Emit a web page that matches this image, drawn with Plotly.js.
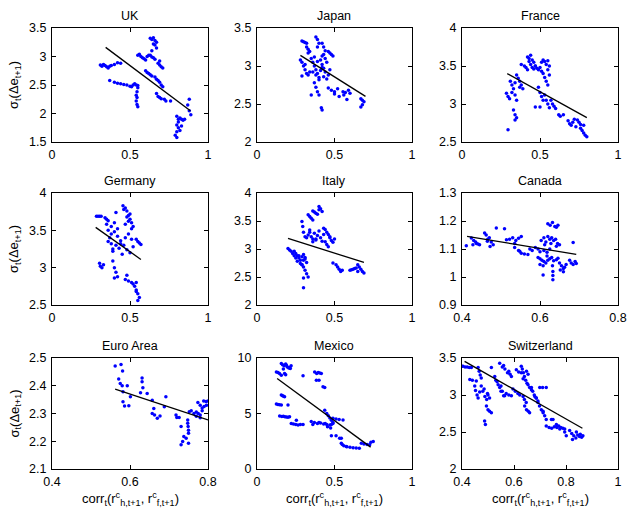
<!DOCTYPE html>
<html><head><meta charset="utf-8">
<script src="https://cdn.plot.ly/plotly-3.0.1.min.js"></script>
<style>html,body{margin:0;padding:0;background:#fff}#c{width:627px;height:511px}</style>
</head><body><div id="c"></div>
<script>
// ---------- data ----------
const titles = ['UK','Japan','France','Germany','Italy','Canada','Euro Area','Mexico','Switzerland'];

const ukX = [0.31,0.32,0.33,0.34,0.35,0.36,0.37,0.38,0.40,0.42,0.44, 0.37, 0.40,0.42,0.44,0.46,0.48,0.50,0.51,0.52,0.53,0.54,0.55, 0.55,0.545,0.54,0.545,0.54,0.545,0.55, 0.55,0.56,0.57,0.58,0.59,0.60,0.61,0.62,0.63,0.64,0.65,0.66, 0.63,0.64,0.65,0.66,0.67,0.66,0.67,0.65,0.64, 0.68,0.69,0.70,0.71,0.69, 0.60,0.61,0.62,0.63,0.64,0.66,0.67, 0.68,0.69,0.70,0.71, 0.67,0.68,0.69,0.70,0.72,0.73, 0.76, 0.80,0.81,0.82,0.83,0.84,0.85,0.80,0.81,0.80,0.79,0.80,0.82,0.83,0.81, 0.88,0.87,0.88,0.89];
const ukY = [2.85,2.83,2.86,2.84,2.82,2.80,2.83,2.84,2.86,2.89,2.88, 2.58, 2.55,2.53,2.52,2.51,2.50,2.48,2.47,2.50,2.52,2.50,2.49, 2.45,2.38,2.32,2.28,2.22,2.16,2.12, 3.02,3.04,3.00,2.98,2.96,2.94,3.00,3.02,3.02,2.99,2.98,2.95, 3.32,3.30,3.33,3.28,3.25,3.20,3.15,3.22,3.10, 2.88,2.85,2.82,2.80,2.92, 2.75,2.72,2.70,2.68,2.66,2.64,2.60, 2.58,2.55,2.50,2.47, 2.35,2.30,2.28,2.26,2.25,2.22, 2.22, 1.95,1.90,1.92,1.90,1.88,1.90,1.80,1.75,1.68,1.62,1.58,1.70,1.78,1.85, 2.25,2.15,2.05,1.98];
const ukLineX = [0.344,0.887], ukLineY = [3.16,2.05];

const jpX = [0.29,0.30,0.31,0.32, 0.32,0.33,0.34,0.33, 0.28,0.29,0.30,0.31,0.32,0.33,0.34,0.29,0.31, 0.38,0.39,0.40,0.39, 0.42,0.43,0.44,0.43,0.42, 0.46,0.47,0.48,0.49, 0.35,0.36,0.37,0.38,0.39,0.40,0.41,0.42,0.43,0.44,0.45,0.46,0.47,0.36,0.38,0.40,0.42,0.44,0.37,0.39,0.41,0.43,0.45, 0.37,0.38,0.39,0.40, 0.35, 0.415,0.42, 0.46,0.48,0.50,0.52, 0.50,0.53,0.56,0.60, 0.58, 0.555,0.57,0.59, 0.67,0.68,0.69,0.68,0.67];
const jpY = [3.33,3.32,3.31,3.30, 3.25,3.22,3.19,3.17, 3.08,3.05,3.00,2.95,2.90,2.88,2.92,2.87,3.02, 3.38,3.35,3.30,3.25, 3.30,3.25,3.20,3.15,3.13, 3.19,3.17,3.15,3.13, 3.10,3.05,3.00,2.95,2.90,2.85,3.08,3.02,2.97,2.92,3.05,2.88,2.95, 2.92,2.88,2.82,2.98,3.10,3.12,3.06,2.94,2.86,2.83, 2.78,2.72,2.66,2.62, 2.62, 2.45,2.42, 2.71,2.68,2.66,2.70, 2.63,2.60,2.62,2.64, 2.56, 2.66,2.65,2.68, 2.57,2.55,2.53,2.49,2.46];
const jpLineX = [0.28,0.70], jpLineY = [3.14,2.60];

const frX = [0.295, 0.285,0.295,0.305, 0.31,0.32,0.33,0.34,0.35,0.32,0.34, 0.33,0.34,0.35,0.34, 0.35,0.36,0.37,0.38,0.39,0.37, 0.38,0.40,0.41,0.42, 0.42,0.43,0.44,0.45,0.46,0.47,0.44,0.45,0.46,0.43, 0.47,0.48,0.49,0.50,0.51, 0.51,0.52,0.53,0.54,0.55,0.56,0.55, 0.52,0.53,0.54,0.55,0.56, 0.49,0.50,0.51,0.52, 0.47, 0.50, 0.53,0.54,0.55,0.56, 0.57,0.58,0.59,0.60, 0.62,0.63,0.65, 0.68,0.69,0.70,0.71,0.73, 0.72,0.74,0.75,0.76,0.78, 0.76,0.77,0.78,0.79,0.80];
const frY = [2.66, 3.14,3.10,3.07, 3.30,3.25,3.20,3.12,3.05,3.15,3.28, 2.92,2.86,2.82,2.79, 3.38,3.34,3.30,3.25,3.20,3.22, 3.52,3.50,3.48,3.45, 3.62,3.60,3.64,3.58,3.55,3.50,3.52,3.48,3.46,3.56, 3.50,3.47,3.45,3.48,3.43, 3.55,3.58,3.56,3.52,3.57,3.50,3.45, 3.40,3.35,3.30,3.25,3.38, 3.22,3.15,3.10,3.05, 2.96, 2.96, 3.12,3.05,3.00,2.95, 3.05,3.00,2.97,2.94, 2.86,2.84,2.86, 2.78,2.74,2.72,2.76,2.70, 2.80,2.79,2.76,2.73,2.72, 2.68,2.65,2.62,2.59,2.57];
const frLineX = [0.29,0.80], frLineY = [3.40,2.82];

const deX = [0.285,0.295,0.305,0.315, 0.305,0.31,0.32,0.33, 0.34,0.35,0.36, 0.35,0.36,0.37,0.38,0.39,0.36,0.38, 0.38,0.40,0.42,0.44,0.46,0.48,0.50,0.52,0.39,0.41,0.43,0.45,0.47,0.49,0.51,0.40,0.42,0.44, 0.39,0.40,0.41,0.42,0.40, 0.41, 0.455,0.47,0.48,0.49,0.50,0.51,0.52,0.46,0.48,0.50,0.47,0.49,0.51, 0.48, 0.47,0.49,0.51,0.52,0.54, 0.53,0.54,0.55,0.56,0.55,0.54, 0.54,0.55,0.56,0.57];
const deY = [3.69,3.69,3.69,3.69, 3.06,3.02,3.00,3.04, 3.67,3.65,3.63, 3.58,3.50,3.40,3.32,3.25,3.35,3.45, 3.55,3.48,3.42,3.36,3.30,3.24,3.20,3.28,3.22,3.30,3.26,3.18,3.40,3.45,3.38,3.60,3.52,3.32, 3.09,3.00,2.94,2.88,2.86, 3.74, 3.83,3.80,3.76,3.70,3.65,3.60,3.55,3.78,3.68,3.72,3.58,3.62,3.52, 2.90, 2.84,2.82,2.80,2.78,2.80, 2.75,2.70,2.65,2.60,2.56,2.68, 3.38,3.35,3.33,3.31];
const deLineX = [0.28,0.57], deLineY = [3.54,3.11];

const itX = [0.20,0.21,0.22,0.23,0.24,0.25, 0.24,0.25,0.26,0.27,0.28,0.29,0.30,0.31,0.32,0.26,0.28,0.30,0.27,0.29,0.31, 0.29,0.30,0.31,0.32,0.33,0.30, 0.30, 0.29,0.295,0.30,0.31, 0.33,0.34,0.35,0.36, 0.36,0.37,0.38,0.39,0.40, 0.40,0.41,0.42, 0.32,0.33,0.34,0.35,0.36,0.37,0.38,0.39,0.40,0.41,0.42,0.43,0.34,0.36,0.38, 0.43,0.44,0.45,0.46,0.47, 0.44,0.45,0.46, 0.47,0.48,0.49,0.50, 0.49, 0.51,0.52,0.53,0.54,0.55, 0.60,0.61,0.62,0.63,0.64,0.65, 0.65,0.66,0.67,0.68,0.69];
const itY = [3.01,2.98,2.96,2.92,2.88,2.84, 2.96,2.92,2.88,2.84,2.80,2.86,2.90,2.82,2.76,2.78,2.74,2.80,2.88,2.72,2.85, 2.72,2.68,2.62,2.56,2.50,2.48, 2.31, 3.49,3.40,3.30,3.22, 3.61,3.58,3.55,3.52, 3.68,3.66,3.64,3.62,3.70, 3.76,3.72,3.67, 3.20,3.25,3.30,3.22,3.18,3.28,3.16,3.24,3.32,3.20,3.14,3.26,3.34,3.13,3.18, 3.37,3.35,3.30,3.26,3.22, 3.13,3.08,3.04, 3.20,3.15,3.12,3.18, 2.75, 2.72,2.68,2.64,2.60,2.62, 2.62,2.63,2.64,2.65,2.66,2.60, 2.72,2.68,2.64,2.60,2.57];
const itLineX = [0.20,0.69], itLineY = [3.19,2.76];

const caX = [0.411, 0.424,0.43,0.435,0.441,0.428,0.437, 0.445, 0.458,0.462,0.466,0.47,0.475,0.48,0.465,0.472, 0.488, 0.509, 0.514, 0.522,0.53,0.538,0.545,0.552,0.535, 0.535,0.545,0.552,0.56,0.569,0.548, 0.574,0.58,0.588,0.595,0.60,0.61,0.618,0.625, 0.603,0.61,0.615,0.62,0.625,0.63,0.635,0.64,0.645,0.65,0.612,0.628,0.642, 0.62,0.626,0.632,0.638,0.642,0.646, 0.608,0.608, 0.595,0.60,0.605,0.61,0.615,0.62,0.625,0.63,0.635,0.642,0.60,0.618,0.632, 0.633,0.633,0.633, 0.646,0.65,0.655,0.66,0.663,0.667,0.652,0.66, 0.676,0.68,0.685,0.69,0.693, 0.685];
const caY = [1.112, 1.139,1.13,1.125,1.118,1.115,1.12, 1.115, 1.157,1.15,1.135,1.14,1.125,1.115,1.128,1.109, 1.175, 1.172, 1.133, 1.135,1.14,1.13,1.138,1.145,1.12, 1.105,1.095,1.085,1.082,1.08,1.092, 1.1,1.095,1.105,1.1,1.09,1.095,1.088,1.1, 1.13,1.14,1.125,1.145,1.135,1.14,1.13,1.135,1.12,1.115,1.115,1.12,1.11, 1.19,1.185,1.195,1.18,1.178,1.185, 1.04,1.007, 1.07,1.065,1.06,1.055,1.05,1.06,1.065,1.07,1.058,1.062,1.045,1.075,1.04, 1.02,1.005,0.99, 1.067,1.05,1.04,1.03,1.035,1.045,1.025,1.019, 1.06,1.05,1.045,1.055,1.048, 1.123];
const caLineX = [0.413,0.693], caLineY = [1.145,1.081];

const euX = [0.562,0.577,0.581,0.571,0.575,0.58,0.582,0.582,0.586,0.593,0.597,0.601, 0.627,0.631,0.631,0.633,0.644, 0.657,0.661,0.657,0.663,0.67,0.677, 0.688,0.692, 0.718,0.72,0.726,0.731, 0.731,0.735,0.738,0.744,0.75, 0.748,0.748,0.749,0.75,0.75, 0.752,0.757,0.764,0.77,0.775,0.78,0.785, 0.774,0.78,0.785,0.79,0.796,0.78,0.77, 0.789,0.795,0.80];
const euY = [2.471,2.477,2.453,2.424,2.408,2.40,2.378,2.342,2.327,2.40,2.328,2.36, 2.375,2.428,2.414,2.393,2.372, 2.348,2.318,2.30,2.295,2.283,2.291, 2.324,2.36, 2.295,2.286,2.286,2.253, 2.187,2.199,2.217,2.211,2.229, 2.277,2.265,2.253,2.24,2.193, 2.306,2.31,2.30,2.305,2.30,2.295,2.31, 2.34,2.33,2.32,2.325,2.33,2.285,2.29, 2.345,2.343,2.345];
const euLineX = [0.562,0.80], euLineY = [2.388,2.277];

const mxX = [0.125,0.135,0.145,0.157, 0.125,0.135,0.145,0.157, 0.157,0.165,0.172,0.178, 0.146,0.16,0.17,0.18,0.19,0.2,0.21, 0.2, 0.157,0.165,0.175,0.185,0.195,0.205,0.215,0.22,0.17,0.19,0.21, 0.178,0.185, 0.221,0.235,0.25,0.265,0.28,0.297, 0.254, 0.297, 0.372,0.385,0.395,0.405,0.415, 0.383,0.40, 0.426,0.437, 0.35,0.37,0.39,0.41,0.43,0.45,0.47,0.49,0.36,0.40,0.44,0.48, 0.437,0.45,0.46,0.47,0.48,0.49,0.455,0.475, 0.49,0.51,0.53,0.555, 0.48,0.51, 0.533,0.544, 0.544,0.55,0.56,0.576, 0.58,0.6,0.62,0.64,0.66, 0.673,0.69,0.71,0.727, 0.735,0.75];
const mxY = [8.75,8.7,8.6,8.45, 5.85,5.8,5.78,5.76, 6.66,6.6,6.55,6.5, 4.78,4.72,4.75,4.7,4.68,4.66,4.7, 5.76, 9.5,9.4,9.3,9.45,9.2,9.1,9.05,9.3,9.0,9.35,9.15, 8.6,8.5, 4.1,4.05,4.0,3.97,4.02,4.0, 4.4, 8.4, 8.75,8.6,8.7,8.65,8.6, 8.0,8.0, 7.4,7.35, 4.27,4.2,4.1,4.15,4.05,4.0,3.97,4.1,4.0,4.2,4.1,4.0, 5.3,5.0,4.8,4.6,4.4,4.2,3.8,3.7, 4.57,4.5,4.45,4.42, 2.99,2.99, 2.78,2.78, 2.33,2.2,2.1,2.03, 2.0,1.95,1.92,1.9,1.88, 2.33,2.25,2.2,2.18, 2.4,2.48];
const mxLineX = [0.13,0.733], mxLineY = [8.15,1.97];

const chX = [0.404,0.412,0.42,0.428,0.436, 0.462,0.466,0.47,0.474, 0.43,0.44,0.455, 0.449,0.452,0.458,0.462,0.468, 0.474,0.48,0.488,0.495,0.50,0.506,0.485,0.498, 0.487,0.49, 0.494,0.50,0.506,0.513, 0.513, 0.526,0.535,0.545,0.555,0.564,0.53,0.55, 0.539,0.55,0.56,0.57,0.58,0.59, 0.545,0.555,0.565,0.575,0.585,0.59,0.56,0.58, 0.596,0.605,0.615,0.622, 0.609,0.618,0.628, 0.628,0.632,0.636,0.64,0.645,0.65,0.654,0.635,0.648, 0.635,0.64,0.647, 0.641,0.648,0.655,0.66, 0.654,0.66,0.667, 0.667,0.672,0.678,0.685,0.692,0.68, 0.686,0.692,0.698,0.705,0.712, 0.712,0.718,0.724, 0.699,0.71,0.724, 0.744,0.75, 0.724,0.735,0.745,0.755,0.765,0.776, 0.763,0.772,0.78,0.788,0.795, 0.795,0.801, 0.814,0.822,0.83,0.838,0.845,0.852,0.86,0.865,0.825,0.84,0.855];
const chY = [3.39,3.38,3.38,3.37,3.37, 3.37,3.32,3.27,3.23, 3.21,3.2,3.19, 3.12,3.06,3.0,2.96,3.04, 3.12,3.05,2.98,2.94,3.0,2.96,3.08,3.02, 2.65,2.60, 2.85,2.8,2.78,2.76, 3.37, 3.25,3.18,3.1,3.05,2.99,3.2,3.12, 3.14,3.05,2.99,3.02,3.0,2.99, 3.43,3.38,3.35,3.3,3.28,3.25,3.4,3.32, 3.08,3.05,3.02,3.0, 3.34,3.31,3.3, 3.39,3.35,3.3,3.25,3.2,3.16,3.28,3.22,3.32, 2.98,2.94,2.9, 2.85,2.8,2.78,2.76, 3.14,3.1,3.07, 3.1,3.05,3.0,2.96,2.92,2.98, 2.96,2.9,2.85,2.8,2.78, 2.76,2.72,2.67, 3.1,3.1,3.1, 2.67,2.67, 2.58,2.56,2.55,2.57,2.56,2.54, 2.6,2.58,2.56,2.55,2.54, 2.5,2.45, 2.52,2.48,2.45,2.42,2.46,2.44,2.43,2.45,2.4,2.5,2.47];
const chLineX = [0.41,0.863], chLineY = [3.455,2.55];

// axis ranges and ticks
const xRanges = [[0,1],[0,1],[0,1],[0,1],[0,1],[0.4,0.8],[0.4,0.8],[0,1],[0.4,1]];
const yRanges = [[1.5,3.5],[2,3.5],[2.5,4],[2.5,4],[2,4],[0.9,1.3],[2.1,2.5],[0,10],[2,3.5]];
const xTicks = [[0,0.5,1],[0,0.5,1],[0,0.5,1],[0,0.5,1],[0,0.5,1],[0.4,0.6,0.8],[0.4,0.6,0.8],[0,0.5,1],[0.4,0.6,0.8,1]];
const yTicks = [[1.5,2,2.5,3,3.5],[2,2.5,3,3.5],[2.5,3,3.5,4],[2.5,3,3.5,4],[2,2.5,3,3.5,4],[0.9,1,1.1,1.2,1.3],[2.1,2.2,2.3,2.4,2.5],[0,5,10],[2,2.5,3,3.5]];
const yLabel = 'σ<sub>t</sub>(Δe<sub>t+1</sub>)';
const xLabel = 'corr<sub>t</sub>(r<sup>c</sup><sub>h,t+1</sub>, r<sup>c</sup><sub>f,t+1</sub>)';

// ---------- build ----------
const W = 627, H = 511;
const colPx = [[52,208],[257,412],[462,618]];
const rowPx = [[28,142],[193,305],[358,469]];
const pts = [[ukX,ukY],[jpX,jpY],[frX,frY],[deX,deY],[itX,itY],[caX,caY],[euX,euY],[mxX,mxY],[chX,chY]];
const lines = [[ukLineX,ukLineY],[jpLineX,jpLineY],[frLineX,frLineY],[deLineX,deLineY],[itLineX,itLineY],[caLineX,caLineY],[euLineX,euLineY],[mxLineX,mxLineY],[chLineX,chLineY]];

const font = 'Liberation Sans, Arial, sans-serif';
const data = [], annotations = [];
const layout = {
  width: W, height: H, margin: {l:0,r:0,t:0,b:0},
  paper_bgcolor: '#fff', plot_bgcolor: '#fff', showlegend: false,
  font: {family: font, size: 12, color: '#000'}
};
for (let i = 0; i < 9; i++) {
  const r = Math.floor(i/3), c = i % 3;
  const sfx = i === 0 ? '' : String(i+1);
  const xa = 'x' + sfx, ya = 'y' + sfx;
  data.push({type:'scatter', mode:'markers', x: pts[i][0], y: pts[i][1], xaxis: xa, yaxis: ya,
    marker: {color:'#0000ff', size:3.5}, hoverinfo:'skip'});
  data.push({type:'scatter', mode:'lines', x: lines[i][0], y: lines[i][1], xaxis: xa, yaxis: ya,
    line: {color:'#000', width:1.3}, hoverinfo:'skip'});
  const common = {showline:true, mirror:'ticks', ticks:'inside', ticklen:4, tickwidth:1, tickcolor:'#000',
    linecolor:'#000', linewidth:1, showgrid:false, zeroline:false, fixedrange:true,
    tickfont:{family:font, size:12.5, color:'#000'}};
  layout['xaxis' + sfx] = Object.assign({}, common, {
    domain: [colPx[c][0]/W, colPx[c][1]/W], range: xRanges[i], tickvals: xTicks[i],
    anchor: ya, ticklabelstandoff: 1});
  layout['yaxis' + sfx] = Object.assign({}, common, {
    domain: [1 - rowPx[r][1]/H, 1 - rowPx[r][0]/H], range: yRanges[i], tickvals: yTicks[i],
    anchor: xa, ticklabelstandoff: 2});
  annotations.push({text: titles[i], xref:'paper', yref:'paper', x: (colPx[c][0]+colPx[c][1])/2/W,
    y: 1 - rowPx[r][0]/H, yanchor:'bottom', xanchor:'center', yshift: 3, showarrow:false,
    font:{family:font, size:12.5, color:'#000'}});
  if (c === 0) {
    annotations.push({text: yLabel, xref:'paper', yref:'paper', x: 15/W,
      y: 1 - (rowPx[r][0]+rowPx[r][1])/2/H, xanchor:'center', yanchor:'middle', textangle:-90,
      showarrow:false, font:{family:font, size:13, color:'#000'}});
  }
  if (r === 2) {
    annotations.push({text: xLabel, xref:'paper', yref:'paper', x: (colPx[c][0]+colPx[c][1])/2/W,
      y: 1 - 499/H, xanchor:'center', yanchor:'middle', showarrow:false,
      font:{family:font, size:13, color:'#000'}});
  }
}
layout.annotations = annotations;
Plotly.newPlot('c', data, layout, {staticPlot:true, displayModeBar:false});
</script></body></html>
